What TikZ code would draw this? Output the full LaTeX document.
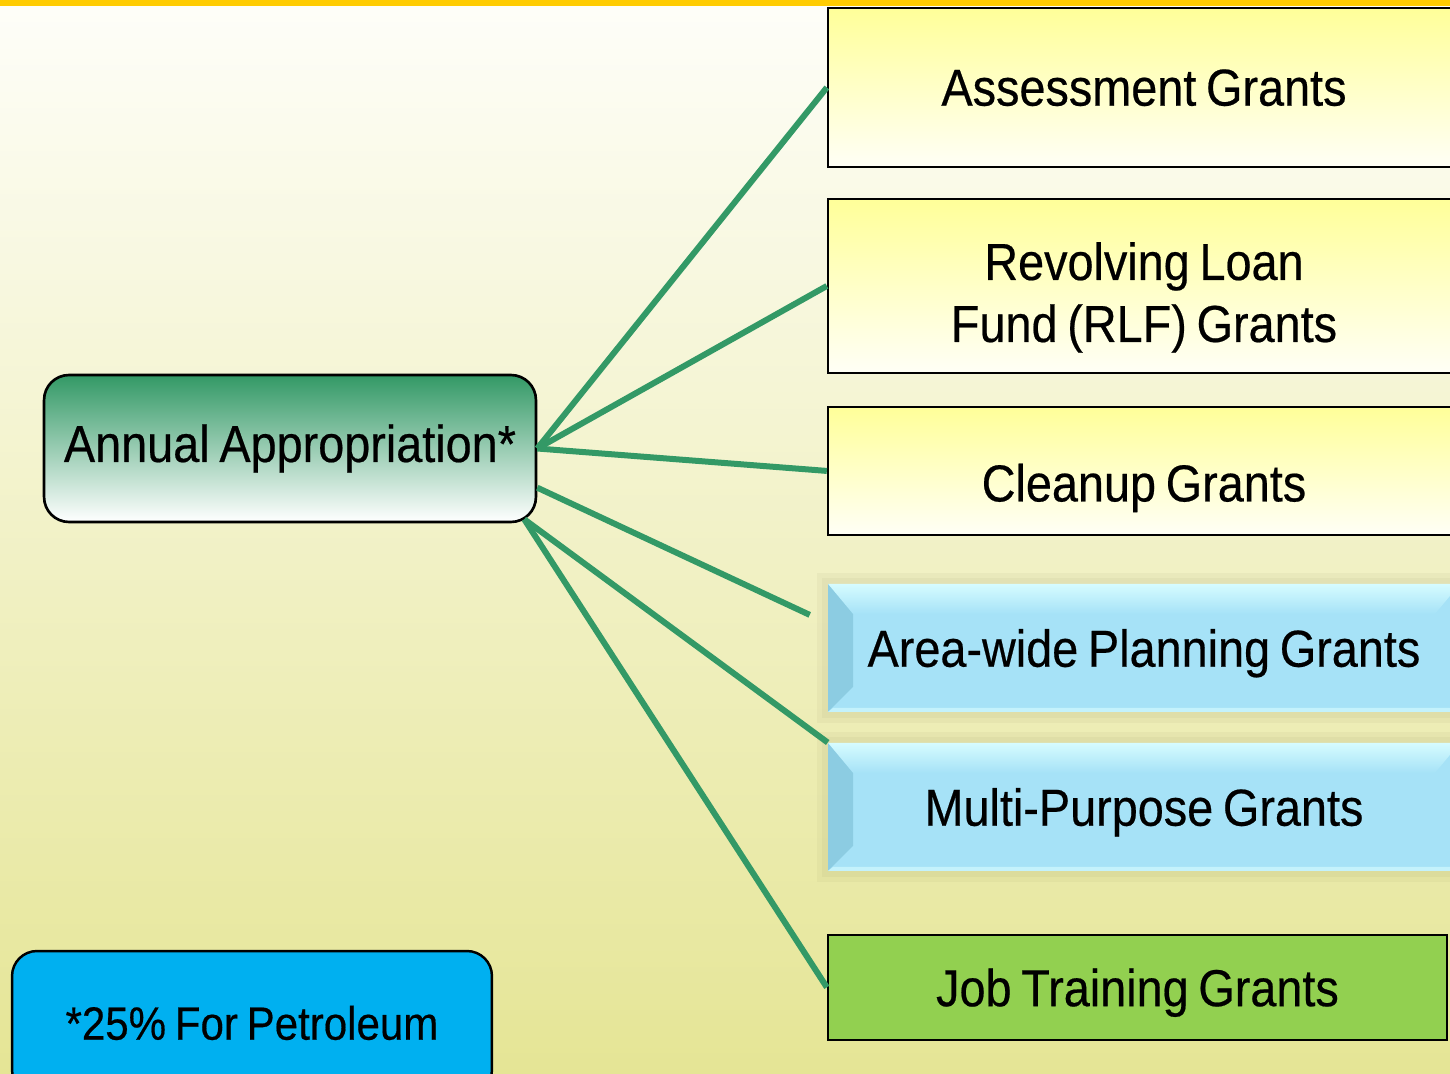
\documentclass[tikz,border=0pt]{standalone}
\usepackage{fontspec}
\setmainfont{Liberation Sans}[FakeStretch=0.9, FakeBold=0.4, WordSpace=0.75]
\usepackage{tikz}

\definecolor{bgtop}{RGB}{254,254,249}
\definecolor{bgbottom}{RGB}{229,229,149}
\definecolor{bartop}{RGB}{255,204,0}
\definecolor{linkgreen}{RGB}{51,153,102}
\definecolor{boxyellow}{RGB}{255,255,153}
\definecolor{boxwhite}{RGB}{255,255,246}
\definecolor{bevelblue}{RGB}{166,226,247}
\definecolor{beveltop}{RGB}{214,252,255}
\definecolor{bevelleft}{RGB}{140,204,226}
\definecolor{bevelbottom}{RGB}{196,242,252}
\definecolor{jobgreen}{RGB}{146,208,80}
\definecolor{petroblue}{RGB}{0,176,240}

\begin{document}
\begin{tikzpicture}[x=0.02cm, y=-0.02cm]
\tikzstyle{grant} = [rectangle, draw, line width=1.4pt, top color=boxyellow, bottom color=boxwhite,
    align=center, minimum width=12.64cm, text depth=0pt, inner sep=0pt,
    font=\fontsize{29.6pt}{35.3pt}\selectfont]
\tikzstyle{bevel} = [rectangle, fill=bevelblue, align=center,
    minimum width=12.64cm, minimum height=2.56cm, text depth=0pt, inner sep=0pt,
    font=\fontsize{29.6pt}{35.3pt}\selectfont,
    preaction={draw=black!60!yellow, opacity=0.06, line width=0.45cm},
    preaction={draw=black!60!yellow, opacity=0.06, line width=0.25cm},
    path picture={
      \fill[bevelleft] (path picture bounding box.north west)
        -- ([shift={(0.5cm,-0.5cm)}]path picture bounding box.north west)
        -- ([shift={(0.5cm,0.5cm)}]path picture bounding box.south west)
        -- (path picture bounding box.south west) -- cycle;
      \shade[top color=beveltop, bottom color=bevelblue] (path picture bounding box.north west)
        -- (path picture bounding box.north east)
        -- ([shift={(-0.5cm,-0.6cm)}]path picture bounding box.north east)
        -- ([shift={(0.5cm,-0.6cm)}]path picture bounding box.north west) -- cycle;
      \fill[bevelbottom] (path picture bounding box.south west)
        -- ([shift={(0.1cm,0.08cm)}]path picture bounding box.south west)
        -- ([shift={(0cm,0.08cm)}]path picture bounding box.south east)
        -- (path picture bounding box.south east) -- cycle;
    }]
\tikzstyle{source} = [rectangle, draw, line width=1.5pt, rounded corners=0.5cm,
    top color=linkgreen, bottom color=white, minimum width=9.84cm, minimum height=2.94cm,
    inner sep=0pt, font=\fontsize{29.6pt}{35.3pt}\selectfont]
\tikzstyle{note} = [rectangle, draw, line width=1.4pt, rounded corners=0.5cm, fill=petroblue,
    minimum width=9.6cm, minimum height=2.88cm, inner sep=0pt,
    font=\fontsize{26.6pt}{32pt}\selectfont]
\tikzstyle{line} = [draw=linkgreen, line width=0.12cm]

 \useasboundingbox (0,0) rectangle (1450,1074);
 \clip (0,0) rectangle (1450,1074);
 \shade [top color=bgtop, bottom color=bgbottom] (0,0) rectangle (1450,1074);
 \fill [bartop] (0,0) rectangle (1450,6);

 \node [grant, minimum height=3.18cm] (assess) at (1144,87.5) {Assessment Grants};
 \node [grant, below of=assess, node distance=3.97cm, minimum height=3.48cm, text height=2.24cm] (rlf) {Revolving Loan\\ Fund (RLF) Grants};
 \node [grant, below of=rlf, node distance=3.7cm, minimum height=2.56cm, text height=1.22cm] (cleanup) {Cleanup Grants};

 \node [bevel, below of=cleanup, node distance=3.54cm] (area) {Area-wide Planning Grants};
 \node [bevel, below of=area, node distance=3.18cm] (multi) {Multi-Purpose Grants};

 \node [grant, below of=multi, node distance=3.61cm, xshift=-0.13cm, fill=jobgreen,
   top color=jobgreen, bottom color=jobgreen, minimum width=12.38cm, minimum height=2.1cm] (job) {Job Training Grants};

 \node [source] (annual) at (290,448.5) {Annual Appropriation*};
 \node [note] (petro) at (252,1023) {*25\% For Petroleum};

 \coordinate (annualcorner) at ([shift={(-0.26cm,0.08cm)}]annual.south east);
 \coordinate (areaend) at ([shift={(-0.36cm,0.66cm)}]area.west);

 \path [line] (annual.east) -- (assess.west);
 \path [line] (annual.east) -- (rlf.west);
 \path [line] (annual.east) -- (cleanup.west);
 \path [line] (annual.-9) -- (areaend);
 \path [line] (annualcorner) -- (multi.north west);
 \path [line] (annualcorner) -- (job.west);
\end{tikzpicture}
\end{document}
